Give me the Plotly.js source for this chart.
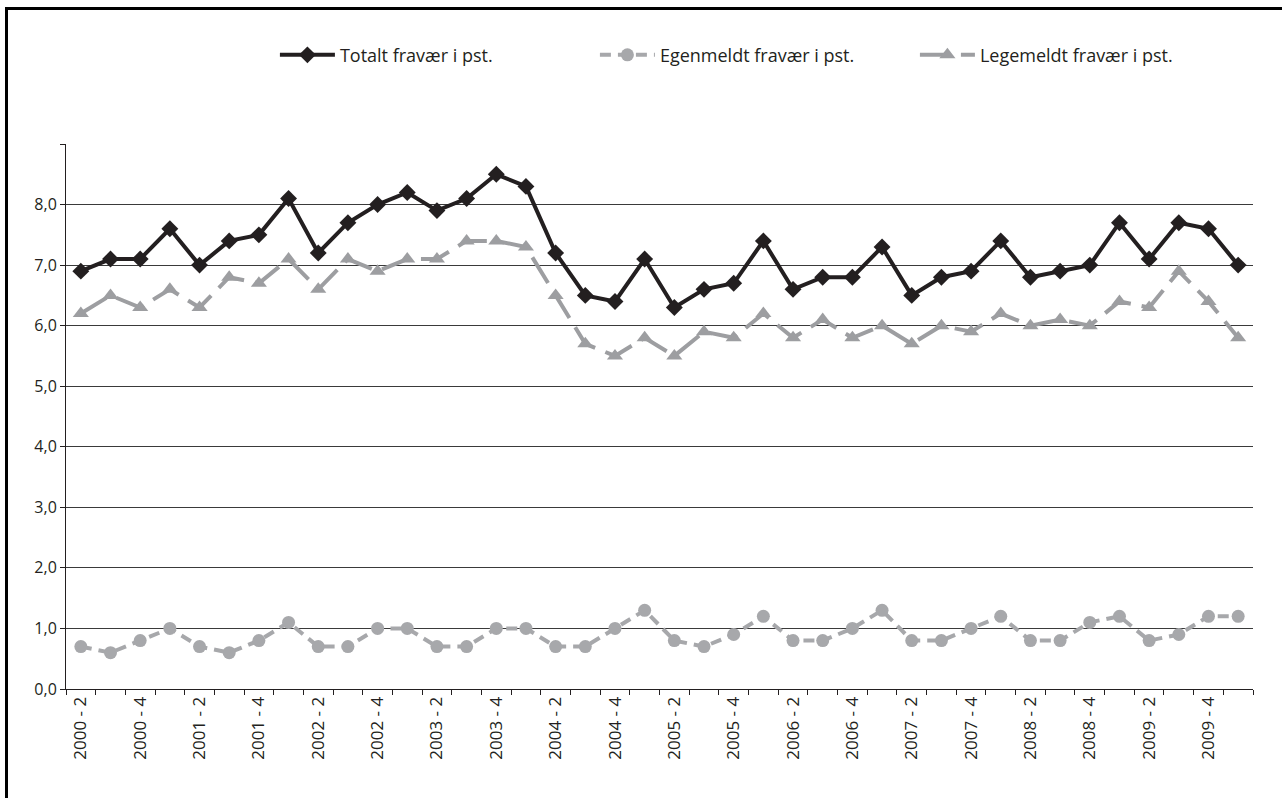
<!DOCTYPE html>
<html>
<head>
<meta charset="utf-8">
<script src="https://cdn.plot.ly/plotly-3.0.1.min.js"></script>
<style>
  html, body { margin: 0; padding: 0; background: #fff; }
  #frame { position: absolute; left: 5px; top: 7px; width: 1300px; height: 820px;
           border-left: 3px solid #000; border-top: 3px solid #000; pointer-events: none; }
  #chart { position: absolute; left: 0; top: 0; width: 1282px; height: 798px; }
</style>
</head>
<body>
<div id="chart"></div>
<div id="frame"></div>
<script>
const quarters = [
  "2000 - 2","2000 - 3","2000 - 4","2001 - 1","2001 - 2","2001 - 3","2001 - 4","2002 - 1",
  "2002 - 2","2002 - 3","2002 - 4","2003 - 1","2003 - 2","2003 - 3","2003 - 4","2004 - 1",
  "2004 - 2","2004 - 3","2004 - 4","2005 - 1","2005 - 2","2005 - 3","2005 - 4","2006 - 1",
  "2006 - 2","2006 - 3","2006 - 4","2007 - 1","2007 - 2","2007 - 3","2007 - 4","2008 - 1",
  "2008 - 2","2008 - 3","2008 - 4","2009 - 1","2009 - 2","2009 - 3","2009 - 4","2010 - 1"
];
const totalt = [
  6.9,7.1,7.1,7.6,7.0,7.4,7.5,8.1,
  7.2,7.7,8.0,8.2,7.9,8.1,8.5,8.3,
  7.2,6.5,6.4,7.1,6.3,6.6,6.7,7.4,
  6.6,6.8,6.8,7.3,6.5,6.8,6.9,7.4,
  6.8,6.9,7.0,7.7,7.1,7.7,7.6,7.0
];
const egenmeldt = [
  0.7,0.6,0.8,1.0,0.7,0.6,0.8,1.1,
  0.7,0.7,1.0,1.0,0.7,0.7,1.0,1.0,
  0.7,0.7,1.0,1.3,0.8,0.7,0.9,1.2,
  0.8,0.8,1.0,1.3,0.8,0.8,1.0,1.2,
  0.8,0.8,1.1,1.2,0.8,0.9,1.2,1.2
];
const legemeldt = [
  6.2,6.5,6.3,6.6,6.3,6.8,6.7,7.1,
  6.6,7.1,6.9,7.1,7.1,7.4,7.4,7.3,
  6.5,5.7,5.5,5.8,5.5,5.9,5.8,6.2,
  5.8,6.1,5.8,6.0,5.7,6.0,5.9,6.2,
  6.0,6.1,6.0,6.4,6.3,6.9,6.4,5.8
];
const seriesNames = ["Totalt fravær i pst.", "Egenmeldt fravær i pst.", "Legemeldt fravær i pst."];
const yTickVals = [0,1,2,3,4,5,6,7,8,9];
const yTickText = ["0,0","1,0","2,0","3,0","4,0","5,0","6,0","7,0","8,0",""];
const xTickText = quarters.map((q, i) => (i % 2 === 0 ? q : ""));

const FONT = "Open Sans, sans-serif";

const traces = [
  {
    x: quarters, y: totalt, name: seriesNames[0], type: "scatter", mode: "lines+markers",
    line: { color: "#231f20", width: 4 },
    marker: { symbol: "diamond", size: 13, color: "#231f20" }
  },
  {
    x: quarters, y: egenmeldt, name: seriesNames[1], type: "scatter", mode: "lines+markers",
    line: { color: "#a7a8ab", width: 4, dash: "11px,7px" },
    marker: { symbol: "circle", size: 13, color: "#a7a8ab" }
  },
  {
    x: quarters, y: legemeldt, name: seriesNames[2], type: "scatter", mode: "lines+markers",
    line: { color: "#9d9ea1", width: 4, dash: "30px,11px" },
    marker: { symbol: "triangle-up", size: 14, color: "#9d9ea1" }
  }
];

const layout = {
  width: 1282, height: 798,
  margin: { l: 66, r: 29, t: 144, b: 109 },
  paper_bgcolor: "#ffffff", plot_bgcolor: "#ffffff",
  font: { family: FONT, size: 16, color: "#231f20" },
  showlegend: true,
  legend: {
    orientation: "h", x: 0.176, xanchor: "left", y: 1.163, yanchor: "middle",
    entrywidth: 250, entrywidthmode: "pixels",
    font: { family: FONT, size: 18, color: "#231f20" },
    itemwidth: 55, tracegroupgap: 0
  },
  xaxis: {
    type: "category",
    tickmode: "array", tickvals: quarters, ticktext: xTickText,
    tickson: "boundaries", ticks: "outside", ticklen: 5, tickcolor: "#231f20", tickwidth: 1,
    tickangle: -90, showgrid: false, zeroline: false,
    showline: true, linecolor: "#231f20", linewidth: 1,
    range: [-0.5, quarters.length - 0.5],
    tickfont: { family: FONT, size: 17, color: "#231f20" }
  },
  yaxis: {
    range: [0, 9], tickmode: "array", tickvals: yTickVals, ticktext: yTickText,
    ticks: "outside", ticklen: 5, tickcolor: "#231f20",
    showgrid: true, gridcolor: "#3a3a3a", gridwidth: 1,
    zeroline: false, showline: true, linecolor: "#231f20", linewidth: 1,
    tickfont: { family: FONT, size: 16, color: "#231f20" }
  }
};

Plotly.newPlot("chart", traces, layout, { displayModeBar: false, staticPlot: true });
</script>
</body>
</html>
